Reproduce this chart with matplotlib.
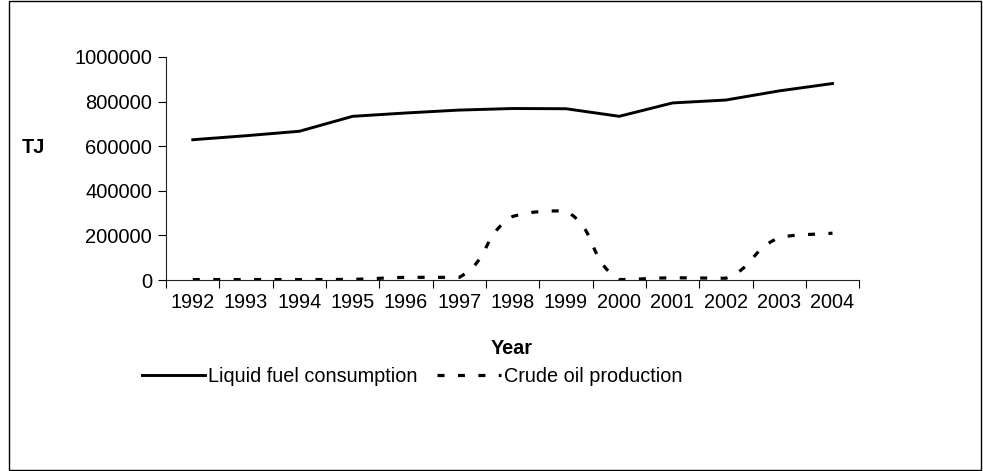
import matplotlib
matplotlib.use("Agg")
from matplotlib import pyplot as plt
from matplotlib.patches import Rectangle
from matplotlib.path import Path
from matplotlib.patches import PathPatch
from matplotlib.lines import Line2D

plt.rcParams['font.family'] = ['Liberation Sans', 'DejaVu Sans']

years = ['1992', '1993', '1994', '1995', '1996', '1997', '1998',
         '1999', '2000', '2001', '2002', '2003', '2004']
liquid_fuel = [629000, 647000, 667000, 734000, 749000, 762000, 769000,
               768000, 734000, 794000, 807000, 848000, 881000]
crude_oil = [2000, 2000, 2000, 3000, 12000, 12000, 285000,
             310000, 2000, 10000, 8000, 190000, 210000]
y_ticks = [0, 200000, 400000, 600000, 800000, 1000000]


def smooth_path(xs, ys, yscale, t=0.5):
    # excel-like smoothing: handles weighted by segment length (screen space),
    # clamped so a segment never bulges past its end values
    n = len(xs)
    pts = [(x, y * yscale) for x, y in zip(xs, ys)]

    def dist(a, b):
        return ((a[0] - b[0]) ** 2 + (a[1] - b[1]) ** 2) ** 0.5

    before, after = [], []
    for i in range(n):
        p0 = pts[max(i - 1, 0)]
        p1 = pts[i]
        p2 = pts[min(i + 1, n - 1)]
        d01, d12 = dist(p0, p1), dist(p1, p2)
        tot = d01 + d12
        vx, vy = p2[0] - p0[0], p2[1] - p0[1]
        fa = t * d01 / tot
        fb = t * d12 / tot
        before.append((p1[0] - fa * vx, p1[1] - fa * vy))
        after.append((p1[0] + fb * vx, p1[1] + fb * vy))

    verts = [pts[0]]
    codes = [Path.MOVETO]
    for i in range(n - 1):
        lo = min(pts[i][1], pts[i + 1][1])
        hi = max(pts[i][1], pts[i + 1][1])
        c1 = (after[i][0], min(max(after[i][1], lo), hi))
        c2 = (before[i + 1][0], min(max(before[i + 1][1], lo), hi))
        verts += [c1, c2, pts[i + 1]]
        codes += [Path.CURVE4] * 3
    verts = [(x, y / yscale) for x, y in verts]
    return Path(verts, codes)


fig = plt.figure(figsize=(9.83, 4.71), dpi=100)
ax_rect = [0.169, 0.4055, 0.705, 0.4735]
ax = fig.add_axes(ax_rect)

xs = list(range(len(years)))
ax.plot(xs, liquid_fuel, color='k', linewidth=2.1, solid_joinstyle='miter')

# one year step on screen vs one TJ on screen
px_per_year = ax_rect[2] * 983 / len(years)
px_per_tj = ax_rect[3] * 471 / 1000000
dash = (0, (2.2, 4.2))
patch = PathPatch(smooth_path(xs, crude_oil, px_per_tj / px_per_year),
                  facecolor='none', edgecolor='k', linewidth=2.3,
                  linestyle=dash, capstyle='butt')
ax.add_patch(patch)

ax.set_xlim(-0.5, len(years) - 0.5)
ax.set_ylim(0, 1000000)
ax.set_yticks(y_ticks)
ax.set_yticklabels([str(v) for v in y_ticks], fontsize=14.5)

ax.set_xticks([i - 0.5 for i in range(len(years) + 1)])
ax.set_xticklabels([])
ax.set_xticks(xs, minor=True)
ax.set_xticklabels(years, minor=True, fontsize=14.3)
ax.tick_params(axis='x', which='minor', length=0, pad=9)
ax.tick_params(axis='x', which='major', length=6, width=0.8, direction='out')
ax.tick_params(axis='y', length=6, width=0.8, direction='out', pad=4)

for s in ['top', 'right']:
    ax.spines[s].set_visible(False)
for s in ['left', 'bottom']:
    ax.spines[s].set_linewidth(0.8)
    ax.spines[s].set_color('#222222')

fig.text(0.022, 1 - 148 / 471, 'TJ', fontsize=14.3, fontweight='bold',
         ha='left', va='center')
fig.text(512 / 983, 1 - 348 / 471, 'Year', fontsize=14.3, fontweight='bold',
         ha='center', va='center')

handles = [Line2D([], [], color='k', linewidth=2.1),
           Line2D([], [], color='k', linewidth=2.3, linestyle=dash)]
fig.legend(handles, ['Liquid fuel consumption', 'Crude oil production'],
           loc='center', bbox_to_anchor=(412 / 983, 1 - 376 / 471), ncol=2,
           frameon=False, fontsize=14.3, handlelength=3.2, handletextpad=0.15,
           columnspacing=1.0, borderaxespad=0)

fig.add_artist(Rectangle((0.009, 0.002), 0.989, 0.996, transform=fig.transFigure,
                         facecolor='none', edgecolor='k', linewidth=1.0))

fig.savefig('out.png', dpi=100)
